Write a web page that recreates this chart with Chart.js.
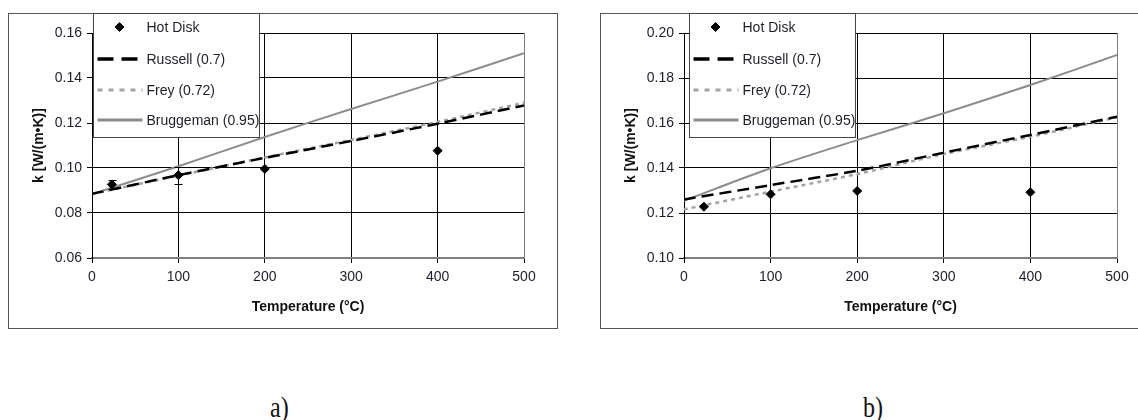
<!DOCTYPE html>
<html>
<head>
<meta charset="utf-8">
<script src="https://cdn.jsdelivr.net/npm/chart.js@4/dist/chart.umd.min.js"></script>
<style>
  html, body { margin: 0; padding: 0; background: #fff; }
  body { position: relative; width: 1138px; height: 420px; overflow: hidden; }
  .frame { position: absolute; border: 1px solid #555; box-sizing: border-box; }
  canvas { position: absolute; }
  .cap { position: absolute; font: 30px "Liberation Serif", "DejaVu Serif", serif; line-height: 30px;
         color: #111; transform: scaleX(0.8); transform-origin: left top; }
</style>
</head>
<body>
<div class="frame" style="left:8px; top:13px; width:550px; height:316px"></div>
<div class="frame" style="left:600px; top:13px; width:560px; height:316px"></div>
<canvas id="chartA" width="549" height="315" style="left:8px; top:13px"></canvas>
<canvas id="chartB" width="560" height="315" style="left:600px; top:13px"></canvas>
<div class="cap" style="left:270px; top:392px">a)</div>
<div class="cap" style="left:863px; top:392px">b)</div>
<script>
// Thermal conductivity vs temperature, two samples (a, b): measured Hot Disk points
// against three effective-medium models. Values read off the figure.
const TEMPS = [0, 100, 200, 300, 400, 500];
const HOT_T = [23, 100, 200, 400];

const A_HOT = [0.0927, 0.0968, 0.0996, 0.1077];
const A_HOT_ERR = [0.0021, 0.0037, 0, 0];
const A_RUSSELL = [0.0885, 0.0968, 0.1045, 0.1120, 0.1197, 0.1278];
const A_FREY = [0.0885, 0.0966, 0.1047, 0.1125, 0.1205, 0.1290];
const A_BRUGG = [0.0884, 0.1008, 0.1138, 0.1262, 0.1384, 0.1510];

const B_HOT = [0.1228, 0.1283, 0.1298, 0.1292];
const B_HOT_ERR = [0, 0, 0, 0];
const B_RUSSELL = [0.1260, 0.1324, 0.1388, 0.1468, 0.1547, 0.1628];
const B_FREY = [0.1216, 0.1295, 0.1373, 0.1462, 0.1539, 0.1625];
const B_BRUGG = [0.1255, 0.1399, 0.1524, 0.1643, 0.1769, 0.1902];

const X_TICKS = [0, 100, 200, 300, 400, 500];
const Y_RANGE_A = [0.06, 0.16];
const Y_RANGE_B = [0.10, 0.20];

const FONT = "'Liberation Sans', Arial, sans-serif";
const TEXT = "#1e1e2a";

const pts = (xs, ys) => xs.map((x, i) => ({ x, y: ys[i] }));

// vertical error bars with small caps, for any dataset carrying an `errors` array
const errorBars = {
  id: "errorBars",
  afterDatasetsDraw(chart) {
    const { ctx, scales: { x, y } } = chart;
    chart.data.datasets.forEach(ds => {
      if (!ds.errors) return;
      ctx.save();
      ctx.strokeStyle = "#000";
      ctx.lineWidth = 1;
      ds.data.forEach((p, j) => {
        const e = ds.errors[j];
        if (!e) return;
        const px = Math.round(x.getPixelForValue(p.x)) + 0.5;
        const top = Math.round(y.getPixelForValue(p.y + e)) + 0.5;
        const bot = Math.round(y.getPixelForValue(p.y - e)) + 0.5;
        ctx.beginPath();
        ctx.moveTo(px, top); ctx.lineTo(px, bot);
        ctx.moveTo(px - 4, top); ctx.lineTo(px + 4, top);
        ctx.moveTo(px - 4, bot); ctx.lineTo(px + 4, bot);
        ctx.stroke();
      });
      ctx.restore();
    });
  },
};

// Excel-style boxed legend sitting in the top-left corner of the plot
const boxLegend = {
  id: "boxLegend",
  afterDraw(chart, args, o) {
    const { ctx, chartArea } = chart;
    const x0 = Math.round(chartArea.left + o.dx) + 0.5, y0 = 0.5;
    ctx.save();
    ctx.fillStyle = "#fff";
    ctx.fillRect(x0, y0, o.width, o.height);
    ctx.strokeStyle = "#444";
    ctx.lineWidth = 1;
    ctx.strokeRect(x0, y0, o.width, o.height);
    ctx.font = "14px " + FONT;
    ctx.textBaseline = "middle";
    chart.data.datasets.forEach((ds, i) => {
      const ly = o.rows[i];
      if (ds.showLine === false) {
        ctx.fillStyle = "#000"; ctx.strokeStyle = "#000";
        Chart.helpers.drawPoint(ctx, { pointStyle: "rectRot", radius: 4.5, borderWidth: 1,
          rotation: 0 }, x0 + 26, ly);
      } else {
        ctx.beginPath();
        ctx.strokeStyle = ds.borderColor;
        ctx.lineWidth = ds.legendWidth;
        ctx.setLineDash(ds.legendDash);
        ctx.moveTo(x0 + 4, ly); ctx.lineTo(x0 + 49, ly);
        ctx.stroke();
        ctx.setLineDash([]);
      }
      ctx.fillStyle = TEXT;
      ctx.fillText(ds.label, x0 + 53, ly + 1);
    });
    ctx.restore();
  },
};

function line(label, ys, color, dash, width, legendDash, legendWidth) {
  return {
    label, data: pts(TEMPS, ys), showLine: true, borderColor: color, backgroundColor: color,
    borderDash: dash, borderWidth: width, pointRadius: 0, tension: 0.3,
    legendDash, legendWidth,
  };
}

function render(id, s) {
  const gray = "#808080";
  return new Chart(document.getElementById(id), {
    type: "scatter",
    data: {
      datasets: [
        { label: "Hot Disk", data: pts(HOT_T, s.hot), errors: s.err, showLine: false,
          pointStyle: "rectRot", pointRadius: 4.5, pointHoverRadius: 4.5,
          backgroundColor: "#000", borderColor: "#000", borderWidth: 1 },
        line("Russell (0.7)", s.russell, "#000", [12, 6], 2.5, [16, 8], 3.5),
        line("Frey (0.72)", s.frey, "#a3a3a3", [4, 4], 2.5, [5, 6], 3),
        line("Bruggeman (0.95)", s.brugg, "#8c8c8c", [], 2, [], 3),
      ],
    },
    options: {
      responsive: false, animation: false,
      devicePixelRatio: 1,
      layout: { padding: { left: 0, right: s.padRight, top: 20, bottom: 0 } },
      scales: {
        x: {
          type: "linear", min: X_TICKS[0], max: X_TICKS[X_TICKS.length - 1],
          afterBuildTicks: sc => { sc.ticks = X_TICKS.map(v => ({ value: v })); },
          afterFit: sc => { sc.height = 70; },
          ticks: { color: TEXT, font: { family: FONT, size: 14 }, padding: 6, maxRotation: 0 },
          grid: { color: c => c.tick && c.tick.value === 500 ? gray : "#000", tickColor: "#000",
                  tickLength: 5, lineWidth: 1 },
          border: { color: gray, width: 1.5 },
          title: { display: true, text: "Temperature (°C)", color: "#111",
                   font: { family: FONT, size: 14, weight: "bold" }, padding: { top: 0, bottom: 12 } },
        },
        y: {
          min: s.yRange[0], max: s.yRange[1],
          afterFit: sc => { sc.width = 84; },
          ticks: { stepSize: 0.02, color: TEXT, font: { family: FONT, size: 14 }, padding: 5,
                   callback: v => v.toFixed(2) },
          grid: { color: c => c.tick && Math.abs(c.tick.value - s.yRange[0]) < 1e-9 ? gray : "#000",
                  tickColor: "#000", tickLength: 5, lineWidth: 1 },
          border: { color: "#000", width: 1 },
          title: { display: true, text: "k [W/(m•K)]", color: "#111",
                   font: { family: FONT, size: 14, weight: "bold" }, padding: { top: 23, bottom: 0 } },
        },
      },
      plugins: {
        legend: { display: false },
        tooltip: { enabled: false },
        boxLegend: { dx: s.legendDx, width: 166, height: 124, rows: [14, 46, 77, 107] },
      },
    },
    plugins: [errorBars, boxLegend],
  });
}

render("chartA", { hot: A_HOT, err: A_HOT_ERR, russell: A_RUSSELL, frey: A_FREY, brugg: A_BRUGG,
                   yRange: Y_RANGE_A, padRight: 33, legendDx: 1 });
render("chartB", { hot: B_HOT, err: B_HOT_ERR, russell: B_RUSSELL, frey: B_FREY, brugg: B_BRUGG,
                   yRange: Y_RANGE_B, padRight: 43, legendDx: 5 });
</script>
</body>
</html>
